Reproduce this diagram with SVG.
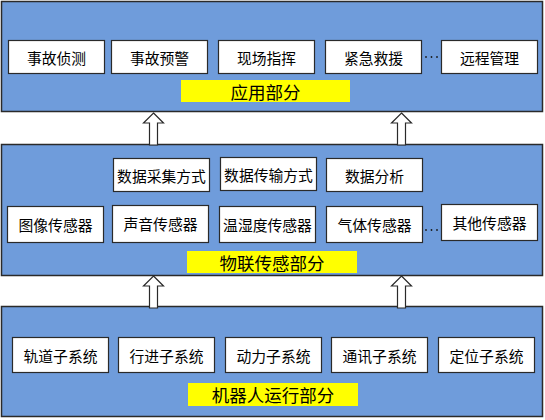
<svg xmlns="http://www.w3.org/2000/svg" width="545" height="420" viewBox="0 0 545 420">
<style>
.panel{fill:#6f9cdb;stroke:#2a2a2a;stroke-width:1.5}
.box{fill:#ffffff;stroke:#2a2a2a;stroke-width:1.2}
.lbl{fill:#ffff00}
.t{font-family:"Noto Sans CJK SC","Noto Sans",sans-serif;font-size:14.8px;fill:#000;text-anchor:middle;dominant-baseline:central}
.tl{font-family:"Noto Sans CJK SC","Noto Sans",sans-serif;font-size:17.5px;fill:#000;text-anchor:middle;dominant-baseline:central}
.arr{fill:#ffffff;stroke:#2a2a2a;stroke-width:1.2}
.dot{fill:#1a1a1a}
</style>
<defs>
<path id="uparrow" d="M0,0 L10,10 L4,10 L4,32 L-4,32 L-4,10 L-10,10 Z"/>
</defs>
<g id="app">
<rect class="panel" x="1.5" y="1.5" width="541" height="110"/>
<g id="app-label"><rect class="lbl" x="181" y="80" width="169" height="22"/><text class="tl" x="265.5" y="91">应用部分</text></g>
<g id="n1"><rect class="box" x="8.5" y="40.5" width="96" height="33"/><text class="t" x="56.5" y="57">事故侦测</text></g>
<g id="n2"><rect class="box" x="111.5" y="40.5" width="96" height="33"/><text class="t" x="159.5" y="57">事故预警</text></g>
<g id="n3"><rect class="box" x="218.5" y="40.5" width="96" height="33"/><text class="t" x="266.5" y="57">现场指挥</text></g>
<g id="n4"><rect class="box" x="325.5" y="40.5" width="96" height="33"/><text class="t" x="373.5" y="57">紧急救援</text></g>
<g id="n5"><rect class="box" x="441.5" y="40.5" width="96" height="33"/><text class="t" x="489.5" y="57">远程管理</text></g>
</g>
<g id="iot">
<rect class="panel" x="1.5" y="144.5" width="541" height="131"/>
<g id="iot-label"><rect class="lbl" x="187" y="251" width="170" height="22"/><text class="tl" x="272" y="262">物联传感部分</text></g>
<g id="m1"><rect class="box" x="113.5" y="158.5" width="96" height="33"/><text class="t" x="161.5" y="175">数据采集方式</text></g>
<g id="m2"><rect class="box" x="220.5" y="157.5" width="96" height="33"/><text class="t" x="268.5" y="174">数据传输方式</text></g>
<g id="m3"><rect class="box" x="326.5" y="158.5" width="96" height="33"/><text class="t" x="374.5" y="175">数据分析</text></g>
<g id="s1"><rect class="box" x="7.5" y="206.5" width="96" height="36"/><text class="t" x="55.5" y="224">图像传感器</text></g>
<g id="s2"><rect class="box" x="112.5" y="205.5" width="96" height="37"/><text class="t" x="160.5" y="223">声音传感器</text></g>
<g id="s3"><rect class="box" x="219.5" y="206.5" width="96" height="36"/><text class="t" x="267.5" y="224">温湿度传感器</text></g>
<g id="s4"><rect class="box" x="326.5" y="206.5" width="96" height="36"/><text class="t" x="374.5" y="224">气体传感器</text></g>
<g id="s5"><rect class="box" x="441.5" y="204.5" width="96" height="36"/><text class="t" x="489.5" y="222">其他传感器</text></g>
</g>
<g id="robot">
<rect class="panel" x="1.5" y="306.5" width="541" height="110"/>
<g id="robot-label"><rect class="lbl" x="188" y="383" width="170" height="23"/><text class="tl" x="273" y="394.5">机器人运行部分</text></g>
<g id="r1"><rect class="box" x="12.5" y="337.5" width="96" height="35"/><text class="t" x="60.5" y="355">轨道子系统</text></g>
<g id="r2"><rect class="box" x="118.5" y="337.5" width="96" height="35"/><text class="t" x="166.5" y="355">行进子系统</text></g>
<g id="r3"><rect class="box" x="225.5" y="337.5" width="96" height="35"/><text class="t" x="273.5" y="355">动力子系统</text></g>
<g id="r4"><rect class="box" x="331.5" y="337.5" width="96" height="35"/><text class="t" x="379.5" y="355">通讯子系统</text></g>
<g id="r5"><rect class="box" x="438.5" y="337.5" width="96" height="35"/><text class="t" x="486.5" y="355">定位子系统</text></g>
</g>
<g id="connectors">
<use href="#uparrow" class="arr" x="153.5" y="113"/>
<use href="#uparrow" class="arr" x="401.5" y="113"/>
<use href="#uparrow" class="arr" x="153.5" y="276"/>
<use href="#uparrow" class="arr" x="401.5" y="276"/>
<circle class="dot" cx="426" cy="57" r="0.9"/><circle class="dot" cx="431.5" cy="57" r="0.9"/><circle class="dot" cx="437" cy="57" r="0.9"/>
<circle class="dot" cx="426" cy="230" r="0.9"/><circle class="dot" cx="431.5" cy="230" r="0.9"/><circle class="dot" cx="437" cy="230" r="0.9"/>
</g>
</svg>
